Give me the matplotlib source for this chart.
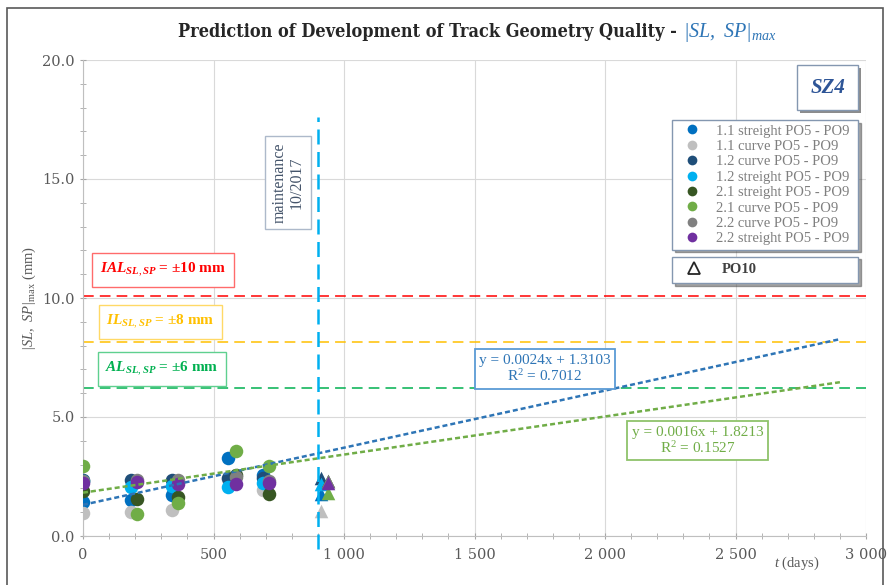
import matplotlib
matplotlib.use("Agg")
import matplotlib.pyplot as plt
import matplotlib.ticker as mticker
from matplotlib.lines import Line2D
from matplotlib.patches import Rectangle

plt.rcParams['font.family'] = ['DejaVu Serif']
plt.rcParams['mathtext.fontset'] = 'custom'
plt.rcParams['mathtext.rm'] = 'Liberation Serif'
plt.rcParams['mathtext.it'] = 'Liberation Serif:italic:bold'
plt.rcParams['mathtext.bf'] = 'Liberation Serif:bold'
plt.rcParams['mathtext.sf'] = 'Liberation Serif:italic'

NARROW = ['Liberation Serif', 'DejaVu Serif']

# ---------------- data ----------------
series_names = ["1.1 streight PO5 - PO9", "1.1 curve PO5 - PO9", "1.2 curve PO5 - PO9",
                "1.2 streight PO5 - PO9", "2.1 streight PO5 - PO9", "2.1 curve PO5 - PO9",
                "2.2 curve PO5 - PO9", "2.2 streight PO5 - PO9"]
series_colors = ["#0070c0", "#bfbfbf", "#1f4e79", "#00b0f0",
                 "#375623", "#70ad47", "#808080", "#7030a0"]

days_1 = [0, 185, 340, 556, 690]     # measurement days, series 1.x
days_2 = [0, 205, 365, 585, 713]     # measurement days, series 2.x
s11_straight = [1.43, 1.50, 1.72, 3.27, 2.56]
s11_curve    = [0.97, 1.00, 1.09, 2.40, 1.93]
s12_curve    = [2.35, 2.35, 2.35, 2.44, 2.45]
s12_straight = [2.30, 2.05, 2.10, 2.05, 2.24]
s21_straight = [1.90, 1.55, 1.63, 2.56, 1.77]
s21_curve    = [2.94, 0.93, 1.38, 3.57, 2.94]
s22_curve    = [2.30, 2.35, 2.35, 2.50, 2.30]
s22_straight = [2.22, 2.27, 2.18, 2.18, 2.22]

# PO10 measurement (triangles)
po10_day_1 = 912
po10_day_2 = 937
po10_values = [1.75, 1.05, 2.44, 2.20, 2.30, 1.80, 2.30, 2.22]

# linear trends (slope, intercept, R^2)
trend_blue = (0.0024, 1.3103, 0.7012)
trend_green = (0.0016, 1.8213, 0.1527)
trend_x_end = 2900

limits = [10.1, 8.15, 6.2]
limit_colors = ["#ff0000", "#ffc000", "#00b050"]
maintenance_day = 900

x_ticks = [0, 500, 1000, 1500, 2000, 2500, 3000]
y_ticks = [0.0, 5.0, 10.0, 15.0, 20.0]

# ---------------- figure ----------------
fig = plt.figure(figsize=(8.9, 5.85), dpi=100)
ax = fig.add_axes([83/890, 49/585, 783/890, 476/585])
ax.set_xlim(0, 3000)
ax.set_ylim(0, 20)

# outer frame
fig.patches.append(Rectangle((7/890, -0.02), 876/890, 577/585 + 0.02, transform=fig.transFigure,
                             fill=False, edgecolor="#595959", linewidth=1.2, zorder=0))

all_series = [s11_straight, s11_curve, s12_curve, s12_straight,
              s21_straight, s21_curve, s22_curve, s22_straight]
for i, (vals, col) in enumerate(zip(all_series, series_colors)):
    xs = days_1 if i < 4 else days_2
    ax.scatter(xs, vals, s=95, color=col, zorder=3, linewidths=0)
    px = po10_day_1 if i < 4 else po10_day_2
    ax.scatter([px], [po10_values[i]], s=95, marker="^", color=col, zorder=3, linewidths=0)

# trend lines
for (m, b, r2), col in [(trend_blue, "#2e75b6"), (trend_green, "#70ad47")]:
    ax.plot([0, trend_x_end], [b, m * trend_x_end + b], color=col, linewidth=1.8,
            dashes=(2, 1.2), zorder=4)

# limit lines
for lv, col in zip(limits, limit_colors):
    ax.axhline(lv, color=col, linewidth=1.1, dashes=(7, 4), zorder=2)

# maintenance line
ax.plot([maintenance_day, maintenance_day], [-0.55, 17.6], color="#00b0f0", linewidth=1.8,
        dashes=(6, 3), clip_on=False, zorder=4)

# ticks / grid
ax.set_xticks(x_ticks)
ax.set_yticks(y_ticks)
ax.xaxis.set_minor_locator(mticker.MultipleLocator(100))
ax.yaxis.set_minor_locator(mticker.MultipleLocator(1))
ax.xaxis.set_major_formatter(mticker.FuncFormatter(lambda v, p: f"{int(v):,}".replace(",", " ")))
ax.yaxis.set_major_formatter(mticker.FormatStrFormatter("%.1f"))
ax.grid(True, which="major", color="#d9d9d9", linewidth=0.8, zorder=0)
ax.set_axisbelow(True)
for sp in ["top", "right"]:
    ax.spines[sp].set_visible(False)
for sp in ["left", "bottom"]:
    ax.spines[sp].set_color("#bfbfbf")
ax.tick_params(which="both", direction="inout", color="#a6a6a6", labelcolor="#595959",
               labelsize=10.5, length=5)
ax.tick_params(axis="x", pad=6)

# axis labels
ax.set_ylabel(r"$\mathsf{|SL,\ SP|}_{\mathrm{max}}$ (mm)", color="#595959", fontsize=10.5,
              family=NARROW)
ax.yaxis.set_label_coords(-0.058, 0.5)
ax.text(0.912, -0.057, r"$\mathsf{t}$ (days)", transform=ax.transAxes, ha="center", va="center",
        color="#595959", fontsize=10.5, family=NARROW)

# title
fig.text(0.767, 0.937, "Prediction of Development of Track Geometry Quality - ",
         ha="right", va="baseline", fontsize=13, fontweight="bold", color="#262626",
         fontstretch="condensed")
fig.text(0.767, 0.937, r"$\mathsf{|SL,\ SP|}_{\mathsf{max}}$", ha="left", va="baseline", fontsize=14.5,
         color="#2e75b6")

# limit labels
lab_kw = dict(transform=ax.transAxes, ha="center", va="center", fontsize=11, fontweight="bold",
              family=NARROW, zorder=6)
ax.text(0.102, 0.559, r"$IAL_{SL,SP}$ = ±10 mm", color="#ff0000",
        bbox=dict(boxstyle="square,pad=0.5", fc="white", ec="#ff6b6b", lw=1), **lab_kw)
ax.text(0.099, 0.450, r"$IL_{SL,SP}$ = ±8 mm", color="#ffc000",
        bbox=dict(boxstyle="square,pad=0.5", fc="white", ec="#ffd966", lw=1), **lab_kw)
ax.text(0.101, 0.351, r"$AL_{SL,SP}$ = ±6 mm", color="#00b050",
        bbox=dict(boxstyle="square,pad=0.5", fc="white", ec="#5fd08f", lw=1), **lab_kw)

# equations
eq_kw = dict(transform=ax.transAxes, ha="center", va="center", fontsize=11, linespacing=1.1,
             family=NARROW, zorder=6)
ax.text(0.590, 0.351, f"y = {trend_blue[0]:.4f}x + {trend_blue[1]:.4f}\nR$^2$ = {trend_blue[2]:.4f}",
        color="#2e75b6", bbox=dict(boxstyle="square,pad=0.3", fc="white", ec="#5b9bd5", lw=1.3), **eq_kw)
ax.text(0.785, 0.200, f"y = {trend_green[0]:.4f}x + {trend_green[1]:.4f}\nR$^2$ = {trend_green[2]:.4f}",
        color="#70ad47", bbox=dict(boxstyle="square,pad=0.3", fc="white", ec="#8fc36b", lw=1.3), **eq_kw)

# maintenance label
ax.text(0.262, 0.742, "maintenance\n10/2017", transform=ax.transAxes, rotation=90, ha="center",
        va="center", fontsize=11.5, color="#44546a", linespacing=1.1, family=NARROW,
        bbox=dict(boxstyle="square,pad=0.4", fc="white", ec="#adb9ca", lw=1), zorder=6)

# SZ4 box with shadow
bx0, bx1, by0, by1 = 0.912, 0.990, 0.895, 0.989
dx, dy = 3 / 783, 3 / 476
ax.add_patch(Rectangle((bx0 + dx, by0 - dy), bx1 - bx0, by1 - by0, transform=ax.transAxes,
                       fc="#8c8c8c", ec="none", zorder=6, clip_on=False))
ax.add_patch(Rectangle((bx0, by0), bx1 - bx0, by1 - by0, transform=ax.transAxes,
                       fc="white", ec="#8497b0", lw=1, zorder=6.5, clip_on=False))
ax.text((bx0 + bx1) / 2, (by0 + by1) / 2, "SZ4", transform=ax.transAxes, ha="center", va="center",
        fontsize=15, fontweight="bold", fontstyle="italic", color="#2e5597", family=NARROW, zorder=7)

# legends
handles = [Line2D([], [], marker="o", linestyle="", markersize=7, color=c, markeredgewidth=0)
           for c in series_colors]
leg1 = ax.legend(handles, series_names, loc="upper left", bbox_to_anchor=(0.752, 0.597, 0.2375, 0.277),
                 mode="expand", borderaxespad=0, prop=dict(family=NARROW, size=10.5),
                 labelcolor="#7f7f7f", frameon=True, fancybox=False, shadow=True, edgecolor="#8497b0",
                 handletextpad=0.5, labelspacing=0.15, borderpad=0.3, handlelength=2.2)
leg1.get_frame().set_linewidth(1)
ax.add_artist(leg1)
h2 = [Line2D([], [], marker="^", linestyle="", markersize=8, markerfacecolor="white",
             markeredgecolor="#262626", markeredgewidth=1.3)]
leg2 = ax.legend(h2, ["PO10"], loc="upper left", bbox_to_anchor=(0.752, 0.528, 0.2375, 0.059),
                 mode="expand", borderaxespad=0, prop=dict(family=NARROW, size=10.5, weight="bold"),
                 labelcolor="#404040", frameon=True, fancybox=False, shadow=True, edgecolor="#8497b0",
                 handletextpad=0.8, borderpad=0.45, handlelength=2.2)
leg2.get_frame().set_linewidth(1)

fig.savefig("out.png", dpi=100)
